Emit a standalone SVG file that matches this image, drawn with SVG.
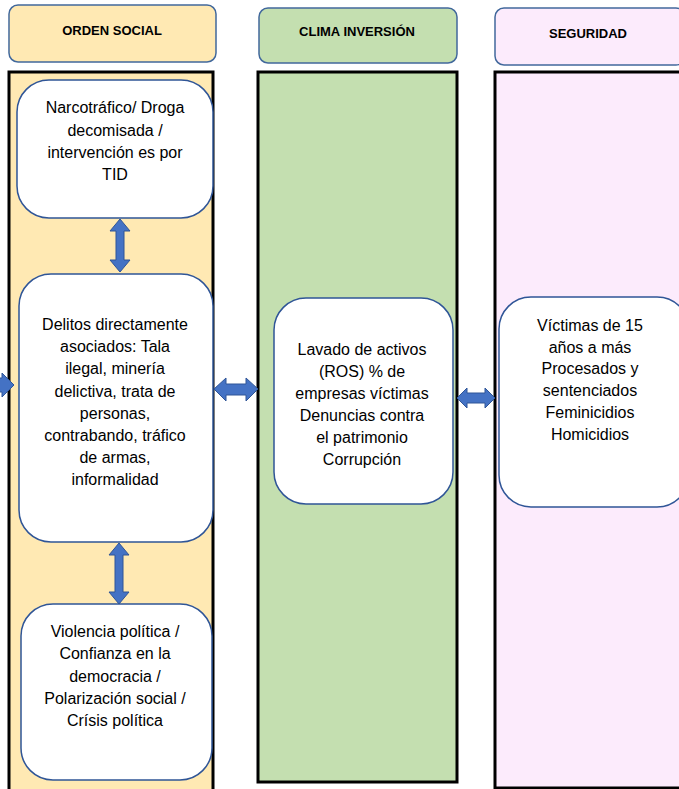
<svg xmlns="http://www.w3.org/2000/svg" width="679" height="789" viewBox="0 0 679 789">
<style>
.hdr{stroke:#41689C;stroke-width:1.5}
.col{stroke:#000;stroke-width:3}
.node{fill:#fff;stroke:#2F5597;stroke-width:1.5}
.arr{fill:#4472C4;stroke:#2F5597;stroke-width:1}
.ht{font-family:"Liberation Sans Narrow","Liberation Sans",Arial,sans-serif;font-weight:bold;font-size:13px;fill:#000;text-anchor:middle}
.t{font-family:"Liberation Sans Narrow","Liberation Sans",Arial,sans-serif;font-size:16px;fill:#000;text-anchor:middle}
</style>
<rect width="679" height="789" fill="#fff"/>
<g id="header-orden">
<rect class="hdr" x="9" y="5" width="207" height="57" rx="9" fill="#FFE9B3"/>
<text class="ht" x="112" y="35">ORDEN SOCIAL</text>
</g>
<g id="header-clima">
<rect class="hdr" x="259" y="8" width="198" height="55" rx="9" fill="#C4DFB0"/>
<text class="ht" x="357" y="36">CLIMA INVERSIÓN</text>
</g>
<g id="header-seguridad">
<rect class="hdr" x="495" y="8" width="190" height="57" rx="9" fill="#FCEBFC"/>
<text class="ht" x="588" y="38">SEGURIDAD</text>
</g>
<g id="col-orden"><rect class="col" x="9" y="72" width="204" height="730" fill="#FFE9B3"/></g>
<g id="col-clima"><rect class="col" x="258" y="72" width="199" height="710" fill="#C4DFB0"/></g>
<g id="col-seguridad"><rect class="col" x="495" y="72" width="200" height="716" fill="#FCEBFC"/></g>
<g id="connectors">
<polygon class="arr" points="120,219 130,231 124,231 124,260 130,260 120,272 110,260 116,260 116,231 110,231"/>
<polygon class="arr" points="119,543 129,555 123,555 123,592 129,592 119,604 109,592 115,592 115,555 109,555"/>
<polygon class="arr" points="214,389 226,378 226,384 246,384 246,378 258,389 246,401 246,395 226,395 226,401"/>
<polygon class="arr" points="457,398 467,388 467,393 485,393 485,388 495,398 485,408 485,403 467,403 467,408"/>
<polygon class="arr" points="-10,378 2,378 2,373 14,385 2,397 2,392 -10,392"/>
</g>
<g id="node-narco">
<rect class="node" x="17" y="80" width="196" height="138" rx="32"/>
<text class="t" x="115"><tspan x="115" y="113">Narcotráfico/  Droga</tspan><tspan x="115" y="136">decomisada  /</tspan><tspan x="115" y="158">intervención  es por</tspan><tspan x="115" y="180">TID</tspan></text>
</g>
<g id="node-delitos">
<rect class="node" x="19" y="274" width="194" height="268" rx="32"/>
<text class="t"><tspan x="115" y="330">Delitos  directamente</tspan><tspan x="115" y="352">asociados:  Tala</tspan><tspan x="115" y="374">ilegal,  minería</tspan><tspan x="115" y="397">delictiva,  trata de</tspan><tspan x="115" y="419">personas,</tspan><tspan x="115" y="441">contrabando,  tráfico</tspan><tspan x="115" y="463">de armas,</tspan><tspan x="115" y="485">informalidad</tspan></text>
</g>
<g id="node-violencia">
<rect class="node" x="21" y="604" width="191" height="176" rx="32"/>
<text class="t"><tspan x="115" y="637">Violencia  política  /</tspan><tspan x="115" y="659">Confianza  en la</tspan><tspan x="115" y="682">democracia  /</tspan><tspan x="115" y="704">Polarización  social  /</tspan><tspan x="115" y="726">Crísis  política</tspan></text>
</g>
<g id="node-lavado">
<rect class="node" x="274" y="298" width="179" height="206" rx="32"/>
<text class="t"><tspan x="362" y="355">Lavado de activos</tspan><tspan x="362" y="377">(ROS) % de</tspan><tspan x="362" y="399">empresas  víctimas</tspan><tspan x="362" y="421">Denuncias  contra</tspan><tspan x="362" y="443">el patrimonio</tspan><tspan x="362" y="465">Corrupción</tspan></text>
</g>
<g id="node-victimas">
<rect class="node" x="499" y="297" width="190" height="210" rx="32"/>
<text class="t"><tspan x="590" y="331">Víctimas   de 15</tspan><tspan x="590" y="353">años a más</tspan><tspan x="590" y="374">Procesados  y</tspan><tspan x="590" y="396">sentenciados</tspan><tspan x="590" y="418">Feminicidios</tspan><tspan x="590" y="440">Homicidios</tspan></text>
</g>
</svg>
